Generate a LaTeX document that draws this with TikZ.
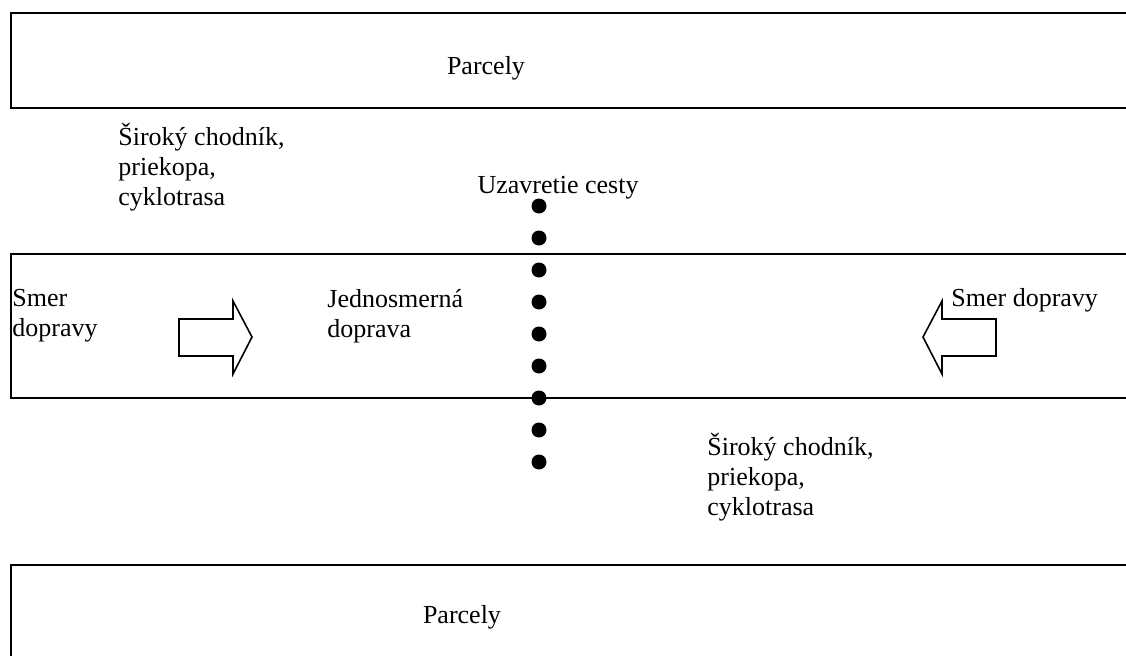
\documentclass[tikz,border=0pt]{standalone}
\usepackage{fontspec}
\setmainfont{Liberation Serif}

\begin{document}
\begin{tikzpicture}[x=0.5pt,y=-0.5pt,
	pasbox/.style	= {line width=1pt},
	popis/.style	= {inner sep=0pt, anchor=west, align=left,
		font=\fontsize{13}{15}\selectfont},
	sipka/.style	= {line width=0.8pt, line join=miter},
	bod/.style		= {circle, fill=black, inner sep=0pt, minimum size=7.5pt}]
				%\draw[help lines] (0,0) grid (1126,655);
				\clip (0,0) rectangle (1126,655);
				
				% parcely hore, cesta, parcely dole
				\draw[pasbox] (11,13) rectangle (1140,108);
				\draw[pasbox] (11,254) rectangle (1140,398);
				\draw[pasbox] (11,565) rectangle (1140,680);
				
				\node[popis, anchor=center] (parhore) at (486,68) {Parcely};
				\node[popis, anchor=center] (pardole) at (462,617) {Parcely};
				
				\node[popis] (chodhore) at (118,167) {Široký chodník,\\priekopa,\\cyklotrasa};
				\node[popis] (choddole) at (707,477) {Široký chodník,\\priekopa,\\cyklotrasa};
				\node[popis, anchor=center] (uzavretie) at (558,188) {Uzavretie cesty};
				
				\node[popis] (smerl) at (12,316) {Smer\\dopravy};
				\node[popis] (jednosm) at (327,316) {Jednosmerná\\doprava};
				\node[popis] (smerp) at (951,300) {Smer dopravy};
				
				% sipky
				\draw[sipka] (179,319) -- (233,319) -- (233,301) -- (252,337)
					-- (233,374) -- (233,356) -- (179,356) -- cycle;
				\draw[sipka] (996,319) -- (942,319) -- (942,301) -- (923,337)
					-- (942,374) -- (942,356) -- (996,356) -- cycle;
				
				% uzavretie
				\foreach \i in {0,...,8}{\node[bod] (b\i) at (539,206+32*\i) {};}
			\end{tikzpicture}
\end{document}
